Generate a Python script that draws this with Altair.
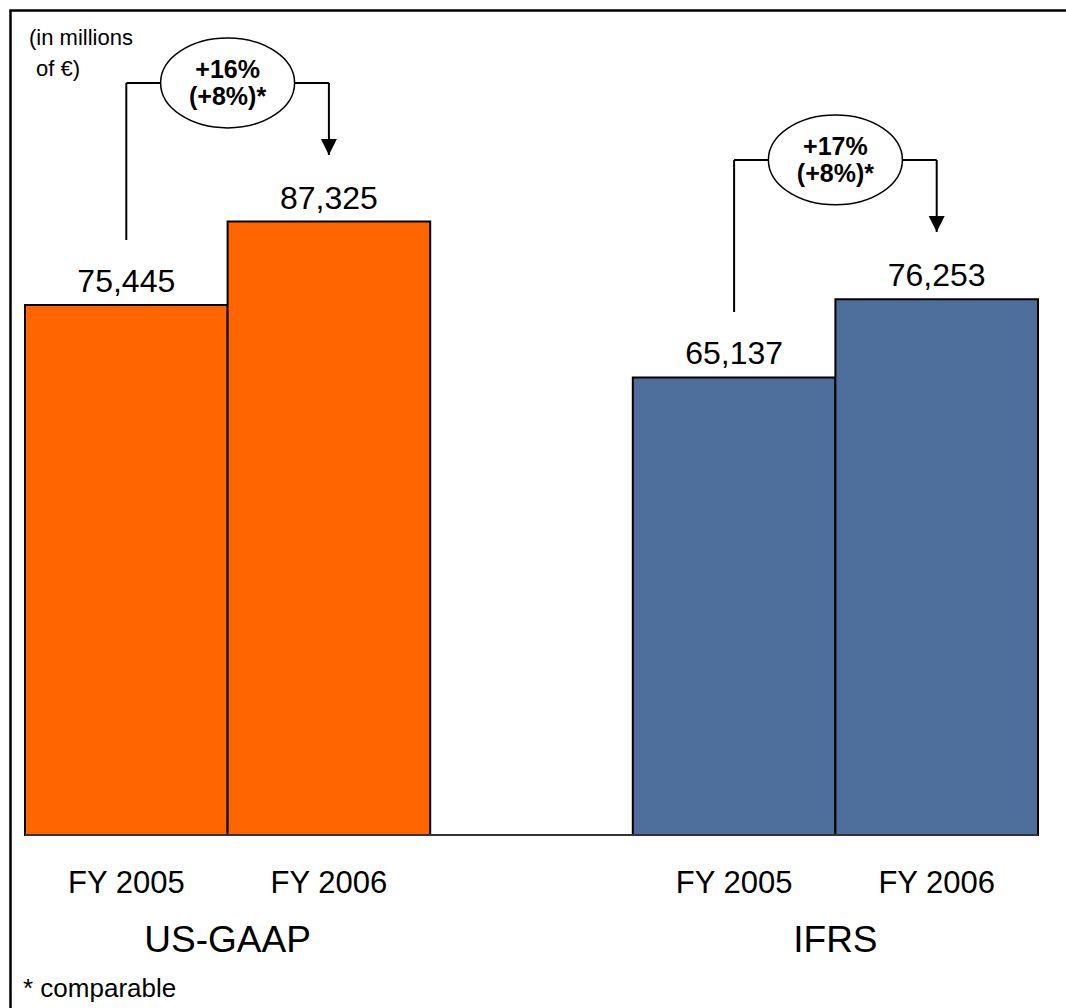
import altair as alt
import pandas as pd

# Revenue by accounting standard and fiscal year (millions of euro)
groups = ["US-GAAP", "US-GAAP", "IFRS", "IFRS"]
years = ["FY 2005", "FY 2006", "FY 2005", "FY 2006"]
revenue = [75445, 87325, 65137, 76253]
slot_start = [0, 1, 3, 4]          # bar slots on a 0..5 axis, slot 2 left empty
bar_colors = ["#FF6600", "#FF6600", "#4D6D9B", "#4D6D9B"]

# Growth call-outs per standard
standards = ["US-GAAP", "IFRS"]
standard_center = [1, 4]
growth = ["+16%", "+17%"]
growth_comparable = ["(+8%)*", "(+8%)*"]
bracket_from = [84700, 74450]      # level where the bracket leaves the FY 2005 bar
bracket_top = [107050, 96090]      # level of the horizontal bracket arm
arrow_tip = [96800, 85840]         # level of the arrow pointing at FY 2006

FONT = "Liberation Sans"
W, H = 1013, 825

x_scale = alt.Scale(domain=[0, 5], nice=False, zero=False)
y_scale = alt.Scale(domain=[0, 117440], nice=False, zero=True)

bars_df = pd.DataFrame({
    "group": groups,
    "year": years,
    "revenue": revenue,
    "x0": slot_start,
    "x1": [s + 1 for s in slot_start],
    "xc": [s + 0.5 for s in slot_start],
    "color": bar_colors,
})

ann_df = pd.DataFrame({
    "standard": standards,
    "center": standard_center,
    "left": [c - 0.5 for c in standard_center],
    "right": [c + 0.5 for c in standard_center],
    "growth": growth,
    "comparable": growth_comparable,
    "start": bracket_from,
    "top": bracket_top,
    "tip": arrow_tip,
})

one = pd.DataFrame({"base": [0]})

X = lambda f: alt.X(f, scale=x_scale, axis=None)
Y = lambda f: alt.Y(f, scale=y_scale, axis=None)

# Bars
bars = alt.Chart(bars_df).mark_rect(stroke="black", strokeWidth=2).encode(
    x=X("x0:Q"), x2="x1:Q", y=Y("revenue:Q"), y2=alt.datum(0),
    fill=alt.Fill("color:N", scale=None),
)

baseline = alt.Chart(one).mark_rule(color="#333333", strokeWidth=2).encode(
    y=Y("base:Q"), x=alt.value(0), x2=alt.value(W),
)

values = alt.Chart(bars_df).mark_text(
    font=FONT, fontSize=32, baseline="alphabetic", dy=-13, color="black"
).encode(x=X("xc:Q"), y=Y("revenue:Q"), text=alt.Text("revenue:Q", format=","))

year_labels = alt.Chart(bars_df).mark_text(
    font=FONT, fontSize=31, baseline="alphabetic", color="black"
).encode(x=X("xc:Q"), y=alt.value(883), text="year:N")

group_labels = alt.Chart(ann_df).mark_text(
    font=FONT, fontSize=37, baseline="alphabetic", color="black"
).encode(x=X("center:Q"), y=alt.value(942), text="standard:N")

# Growth brackets
left_arm = alt.Chart(ann_df).mark_rule(color="black", strokeWidth=2).encode(
    x=X("left:Q"), x2="left:Q", y=Y("start:Q"), y2="top:Q"
)
top_arm = alt.Chart(ann_df).mark_rule(color="black", strokeWidth=2).encode(
    x=X("left:Q"), x2="right:Q", y=Y("top:Q"), y2="top:Q"
)
right_arm = alt.Chart(ann_df).mark_rule(color="black", strokeWidth=2).encode(
    x=X("right:Q"), x2="right:Q", y=Y("top:Q"), y2="tip:Q"
)
arrow_head = alt.Chart(ann_df).mark_point(
    shape="M -1 -2 L 1 -2 L 0 0 Z", size=256, filled=True,
    fill="black", stroke="black", strokeWidth=0, opacity=1,
).encode(x=X("right:Q"), y=Y("tip:Q"))

ellipse = alt.Chart(ann_df).mark_point(
    shape="M -1 0 A 1 0.67 0 1 0 1 0 A 1 0.67 0 1 0 -1 0",
    size=134 * 134, filled=True, fill="white", stroke="black",
    strokeWidth=1.5, opacity=1,
).encode(x=X("center:Q"), y=Y("top:Q"))

growth_text = alt.Chart(ann_df).mark_text(
    font=FONT, fontSize=25, fontWeight="bold", baseline="alphabetic", dy=-5, color="black"
).encode(x=X("center:Q"), y=Y("top:Q"), text="growth:N")

comparable_text = alt.Chart(ann_df).mark_text(
    font=FONT, fontSize=25, fontWeight="bold", baseline="alphabetic", dy=22, color="black"
).encode(x=X("center:Q"), y=Y("top:Q"), text="comparable:N")

# Unit note and footnote
unit1 = alt.Chart(one).mark_text(
    font=FONT, fontSize=22, align="left", baseline="alphabetic", color="black",
).encode(x=alt.value(4), y=alt.value(35), text=alt.value("(in millions"))
unit2 = alt.Chart(one).mark_text(
    font=FONT, fontSize=22, align="left", baseline="alphabetic", color="black",
).encode(x=alt.value(11), y=alt.value(66), text=alt.value("of €)"))

footnote = alt.Chart(one).mark_text(
    font=FONT, fontSize=26, align="left", baseline="alphabetic", color="black"
).encode(x=alt.value(-2), y=alt.value(987), text=alt.value("* comparable"))

# Frame around the slide
frame_left = alt.Chart(one).mark_rule(color="black", strokeWidth=2.5).encode(
    x=alt.value(-14.5), y=alt.value(0), y2=alt.value(1000)
)
frame_top = alt.Chart(one).mark_rule(color="black", strokeWidth=2.5).encode(
    x=alt.value(-15.5), x2=alt.value(1100), y=alt.value(0.5)
)

chart = alt.layer(
    bars, baseline, values, year_labels, group_labels,
    left_arm, top_arm, right_arm, arrow_head, ellipse,
    growth_text, comparable_text, unit1, unit2, footnote,
    frame_left, frame_top,
).properties(
    width=W, height=H,
    padding={"left": 25, "top": 10, "right": 28, "bottom": 173},
    autosize=alt.AutoSizeParams(type="none"),
    background="white",
).configure_view(stroke=None)

chart.save("out.html", embed_options={"renderer": "svg", "actions": False})
